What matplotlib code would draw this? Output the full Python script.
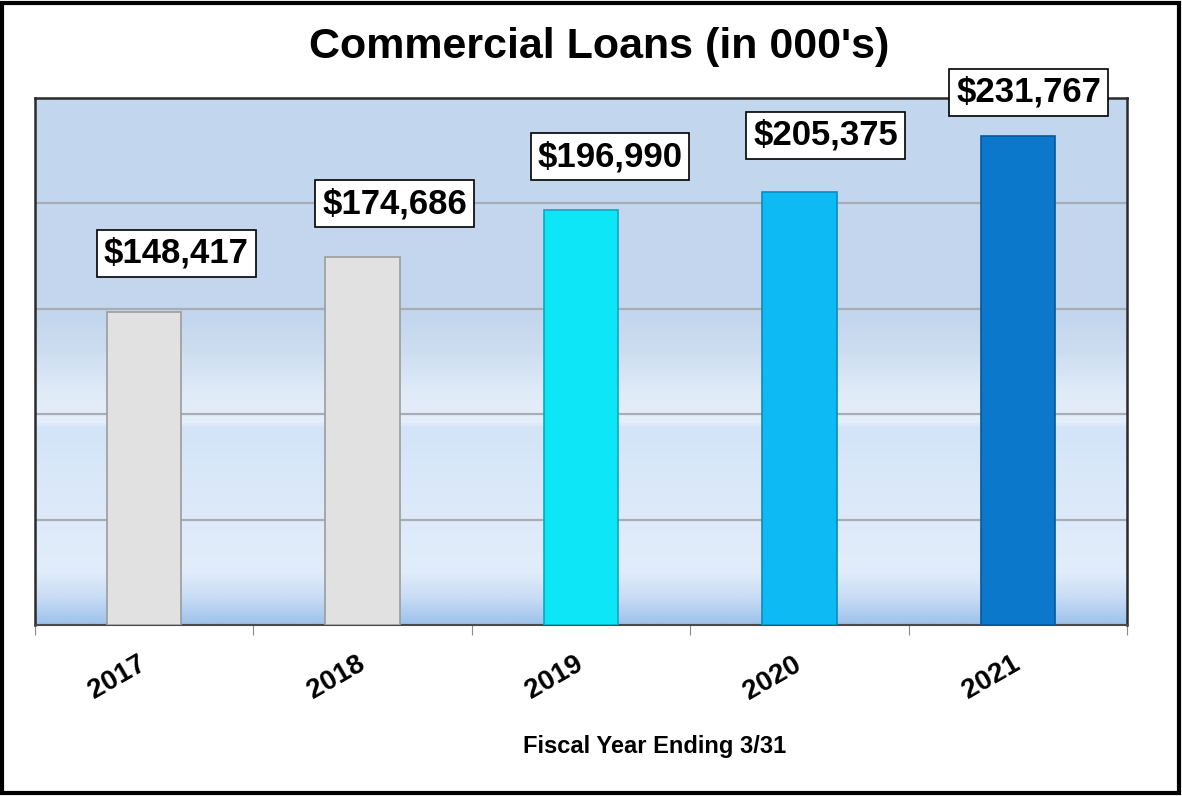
import numpy as np
import matplotlib
matplotlib.use("Agg")
import matplotlib.pyplot as plt
from matplotlib.colors import LinearSegmentedColormap
from matplotlib.patches import Rectangle

# Data
years = ["2017", "2018", "2019", "2020", "2021"]
loans = [148417, 174686, 196990, 205375, 231767]

# Styling
bar_colors = ["#E1E1E1", "#E1E1E1", "#0DE6F6", "#0EBAF4", "#0B78CB"]
edge_colors = ["#9C9C9C", "#9C9C9C", "#0AAABB", "#0A8CC0", "#07589A"]
label_offsets_px = [(32, 59), (32, 53), (29, 53), (26, 57), (11, 44)]

title = "Commercial Loans (in 000's)"
xlabel = "Fiscal Year Ending 3/31"

plt.rcParams['font.family'] = ['Liberation Sans', 'DejaVu Sans']

W, H = 1182, 796
fig = plt.figure(figsize=(W / 100, H / 100), dpi=100)
fig.patch.set_facecolor("white")
ax = fig.add_axes([35 / W, 171 / H, 1092 / W, 527 / H])

# Plot-area gradient fill
stops = [(0.0, "#9EC3EC"), (0.05, "#C8DCF5"), (0.10, "#E2EDFB"),
         (0.20, "#DEEAFA"), (0.375, "#D3E4F8"), (0.385, "#E5EFFB"),
         (0.44, "#E0EBF8"), (0.52, "#CDDDF1"), (0.58, "#C4D7EE"),
         (1.0, "#C2D6EE")]
cmap = LinearSegmentedColormap.from_list("plot_bg", stops)
grad = np.linspace(0, 1, 600).reshape(-1, 1)
ax.imshow(grad, cmap=cmap, origin="lower", extent=[0, 1, 0, 1],
          transform=ax.transAxes, aspect="auto", zorder=-2)

x = np.arange(len(years))
ax.bar(x, loans, width=0.34, color=bar_colors, edgecolor=edge_colors,
       linewidth=1.2, zorder=3)

ax.set_xlim(-0.5, len(years) - 0.5)
ax.set_ylim(0, 250000)

# Gridlines
ax.set_yticks(np.arange(0, 250001, 50000))
ax.yaxis.grid(True, color="#A6ADB5", linewidth=1.6)
ax.set_axisbelow(True)
ax.tick_params(axis="y", length=0, labelleft=False)

# Category boundary ticks and centered, slanted year labels
ax.set_xticks(np.arange(-0.5, len(years), 1.0))
ax.tick_params(axis="x", which="major", length=7, color="#8A8A8A",
               labelbottom=False)
ax.set_xticks(x, labels=years, minor=True)
ax.tick_params(axis="x", which="minor", length=0, pad=27)
for lbl in ax.get_xticklabels(minor=True):
    lbl.set_rotation(30)
    lbl.set_rotation_mode("anchor")
    lbl.set_ha("right")
    lbl.set_va("center")
    lbl.set_fontsize(20)
    lbl.set_fontweight("bold")

for side in ["top", "left", "right"]:
    ax.spines[side].set_color("#2B2B2B")
    ax.spines[side].set_linewidth(1.8)
ax.spines["bottom"].set_color("#4A4A4A")
ax.spines["bottom"].set_linewidth(1.5)

# Value labels
for xi, v, (dx, dy) in zip(x, loans, label_offsets_px):
    ax.annotate(f"${v:,}", xy=(xi, v), xytext=(dx * 0.72, dy * 0.72),
                textcoords="offset points", ha="center", va="center",
                fontsize=25, fontweight="bold", color="black",
                bbox=dict(boxstyle="square,pad=0.2", fc="white",
                          ec="black", lw=1.2),
                zorder=6, annotation_clip=False)

fig.text(599 / W, 1 - 47 / H, title, ha="center", va="center",
         fontsize=31, fontweight="bold")
fig.text(655 / W, 1 - 746 / H, xlabel, ha="center", va="center",
         fontsize=17, fontweight="bold")

# Outer frame
fig.patches.append(Rectangle((2 / W, 3 / H), 1177 / W, 790 / H,
                             transform=fig.transFigure, fill=False,
                             linewidth=3, edgecolor="black"))

fig.savefig("out.png", dpi=100)
